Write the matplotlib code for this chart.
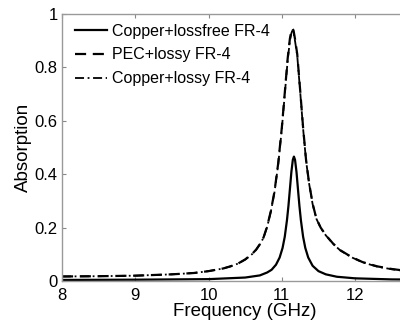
import matplotlib
matplotlib.use("Agg")
import matplotlib.pyplot as plt

plt.rcParams['font.family'] = ['Liberation Sans', 'DejaVu Sans']

# Frequency grid (GHz) for the lossy-FR-4 curves
freq_lossy = [8.0, 8.5, 9.0, 9.5, 9.8, 10.0, 10.2, 10.3, 10.4, 10.5, 10.6, 10.65,
              10.7, 10.75, 10.8, 10.85, 10.9, 10.95, 11.0, 11.04, 11.08, 11.11,
              11.13, 11.145, 11.16, 11.18, 11.21, 11.25, 11.29, 11.33, 11.37,
              11.42, 11.47, 11.53, 11.6, 11.7, 11.8, 11.95, 12.1, 12.3, 12.5,
              12.7, 13.0]
pec_lossy = [0.017, 0.018, 0.020, 0.025, 0.030, 0.037, 0.047, 0.055, 0.065, 0.081,
             0.103, 0.118, 0.138, 0.163, 0.205, 0.262, 0.336, 0.440, 0.575, 0.705,
             0.835, 0.908, 0.936, 0.946, 0.938, 0.906, 0.850, 0.715, 0.575, 0.455,
             0.370, 0.290, 0.235, 0.200, 0.172, 0.140, 0.115, 0.090, 0.071, 0.055,
             0.045, 0.038, 0.032]
copper_lossy = [0.017, 0.018, 0.020, 0.025, 0.030, 0.037, 0.047, 0.055, 0.065, 0.080,
                0.102, 0.117, 0.137, 0.162, 0.203, 0.260, 0.333, 0.436, 0.570, 0.699,
                0.828, 0.900, 0.928, 0.938, 0.931, 0.899, 0.844, 0.710, 0.571, 0.452,
                0.368, 0.288, 0.234, 0.199, 0.171, 0.139, 0.114, 0.089, 0.070, 0.054,
                0.044, 0.037, 0.031]

# Frequency grid (GHz) for the lossless-FR-4 curve
freq_lossfree = [8.0, 9.0, 10.0, 10.5, 10.7, 10.8, 10.86, 10.92, 10.97, 11.01, 11.04,
                 11.07, 11.09, 11.11, 11.13, 11.15, 11.165, 11.18, 11.2, 11.22, 11.24,
                 11.26, 11.29, 11.32, 11.36, 11.42, 11.5, 11.6, 11.75, 12.0, 12.5, 13.0]
copper_lossfree = [0.004, 0.005, 0.007, 0.013, 0.021, 0.032, 0.042, 0.061, 0.088, 0.124,
                   0.166, 0.228, 0.281, 0.344, 0.408, 0.454, 0.466, 0.454, 0.408, 0.344,
                   0.281, 0.228, 0.166, 0.124, 0.088, 0.057, 0.037, 0.025, 0.016, 0.010,
                   0.006, 0.005]

labels = ["Copper+lossfree FR-4", "PEC+lossy FR-4", "Copper+lossy FR-4"]
xticks = [8, 9, 10, 11, 12]
yticks = [0, 0.2, 0.4, 0.6, 0.8, 1]
ytick_labels = ["0", "0.2", "0.4", "0.6", "0.8", "1"]

fig = plt.figure(figsize=(4.0, 3.26), dpi=100)
ax = fig.add_axes([0.155, 0.138, 0.916, 0.819])

ax.plot(freq_lossfree, copper_lossfree, color='black', lw=1.6, ls='-', label=labels[0])
ax.plot(freq_lossy, pec_lossy, color='black', lw=1.6, ls=(0, (5, 3)), label=labels[1])
ax.plot(freq_lossy, copper_lossy, color='black', lw=1.3, ls=(0, (5, 2, 1, 2)), label=labels[2])

ax.set_xlim(8, 13)
ax.set_ylim(0, 1)
ax.set_xticks(xticks)
ax.set_yticks(yticks)
ax.set_yticklabels(ytick_labels)
ax.tick_params(direction='in', length=3, width=0.8, color='#888888',
               top=True, right=True, labelsize=12)
ax.tick_params(axis='x', pad=5)
ax.tick_params(axis='y', pad=3)
for s in ax.spines.values():
    s.set_color('#999999')
    s.set_linewidth(1.0)

ax.set_xlabel("Frequency (GHz)", fontsize=13.5, labelpad=0)
ax.set_ylabel("Absorption", fontsize=13.5, labelpad=2)

leg = ax.legend(loc='upper left', frameon=False, fontsize=11.5, handlelength=2.0,
                handletextpad=0.3, labelspacing=0.55, borderaxespad=0.2,
                bbox_to_anchor=(0.01, 1.0))

fig.savefig("out.png", dpi=100)
